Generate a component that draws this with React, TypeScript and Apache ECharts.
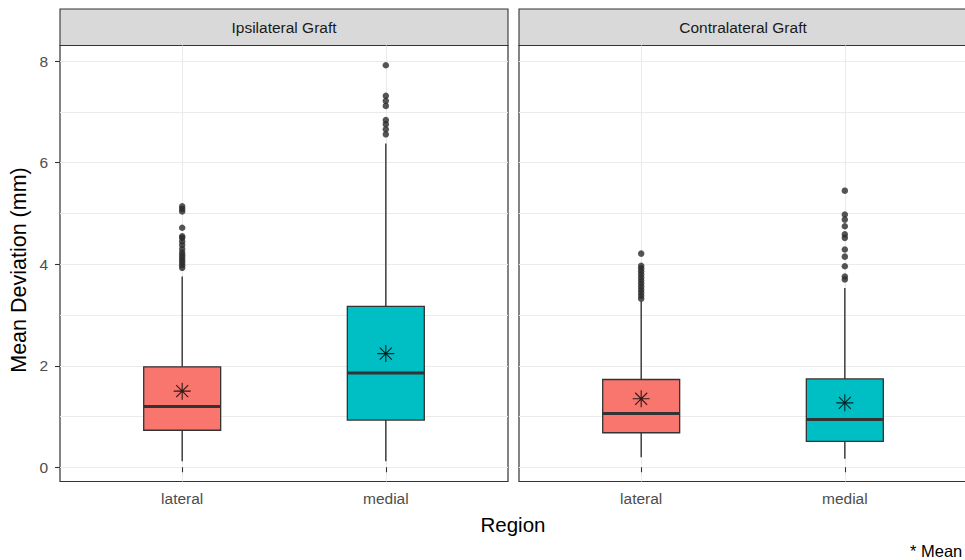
import React, { useEffect, useRef } from "react";
import * as echarts from "echarts";

// ---- data ----
const PANELS = ["Ipsilateral Graft", "Contralateral Graft"];
const REGIONS = ["lateral", "medial"];
const Y_TICKS = [0, 2, 4, 6, 8];
const Y_GRID = [0, 1, 2, 3, 4, 5, 6, 7, 8];

// [lower whisker, Q1, median, Q3, upper whisker] for lateral, medial
const IPSI_BOX = [
  [0.12, 0.73, 1.2, 1.98, 3.76],
  [0.12, 0.93, 1.86, 3.17, 6.38],
];
const CONTRA_BOX = [
  [0.2, 0.68, 1.06, 1.73, 3.27],
  [0.17, 0.51, 0.94, 1.74, 3.53],
];
const IPSI_MEAN = [1.5, 2.24];
const CONTRA_MEAN = [1.35, 1.27];

const IPSI_LATERAL_OUT = [3.93, 3.98, 4.03, 4.08, 4.13, 4.18, 4.23, 4.3, 4.38, 4.45, 4.52, 4.55, 4.72, 5.04, 5.09, 5.14];
const IPSI_MEDIAL_OUT = [6.56, 6.66, 6.76, 6.84, 7.12, 7.22, 7.32, 7.92];
const CONTRA_LATERAL_OUT = [3.32, 3.38, 3.44, 3.5, 3.56, 3.62, 3.68, 3.74, 3.8, 3.86, 3.92, 3.97, 4.21];
const CONTRA_MEDIAL_OUT = [3.7, 3.76, 3.96, 4.15, 4.29, 4.52, 4.59, 4.75, 4.88, 4.98, 5.45];

const FILLS = ["#F8766D", "#00BFC4"];
const FONT = "'Liberation Sans', Arial, Helvetica, sans-serif";
const Y_MIN = -0.28;
const Y_MAX = 8.31;
const BOX_WIDTH = 0.378;
const STAR = "path://M0,-10L0,10M-10,0L10,0M-7.07,-7.07L7.07,7.07M-7.07,7.07L7.07,-7.07";

const GRIDS = [
  { left: 60, top: 45.5, width: 448, height: 436 },
  { left: 519, top: 45.5, width: 448, height: 436 },
];

function boxData(stats: number[][]) {
  return stats.map((s, i) => [i + 1, ...s, i]);
}
function outlierData(lat: number[], med: number[]) {
  return [...lat.map((v) => [1, v]), ...med.map((v) => [2, v])];
}
function meanData(means: number[]) {
  return means.map((v, i) => [i + 1, v]);
}

function renderBox(params: any, api: any) {
  const x = api.value(0);
  const low = api.coord([x, api.value(1)]);
  const q1 = api.coord([x, api.value(2)]);
  const med = api.coord([x, api.value(3)]);
  const q3 = api.coord([x, api.value(4)]);
  const high = api.coord([x, api.value(5)]);
  const w = api.size([BOX_WIDTH, 0])[0];
  const cx = low[0];
  const color = FILLS[api.value(6)];
  const stroke = "#333333";
  return {
    type: "group",
    children: [
      { type: "line", shape: { x1: cx, y1: low[1], x2: cx, y2: q1[1] }, style: { stroke, lineWidth: 1.4 } },
      { type: "line", shape: { x1: cx, y1: q3[1], x2: cx, y2: high[1] }, style: { stroke, lineWidth: 1.4 } },
      {
        type: "rect",
        shape: { x: cx - w / 2, y: q3[1], width: w, height: q1[1] - q3[1] },
        style: { fill: color, stroke, lineWidth: 1.3 },
      },
      {
        type: "line",
        shape: { x1: cx - w / 2, y1: med[1], x2: cx + w / 2, y2: med[1] },
        style: { stroke, lineWidth: 3 },
      },
    ],
  };
}

export default function App() {
  const ref = useRef<HTMLDivElement>(null);

  useEffect(() => {
    if (!ref.current) return;
    const chart = echarts.init(ref.current, undefined, { renderer: "svg" });

    const xAxes = GRIDS.map((_, gi) => ({
      type: "value",
      gridIndex: gi,
      min: 0.4,
      max: 2.6,
      axisLine: { show: false },
      axisTick: { show: true, customValues: [1, 2], length: 5, lineStyle: { color: "#333333", width: 1.1 } },
      axisLabel: {
        customValues: [1, 2],
        formatter: (v: number) => REGIONS[Math.round(v) - 1] ?? "",
        color: "#4d4d4d",
        fontSize: 15.5,
        fontFamily: FONT,
        margin: 9,
      },
      splitLine: { show: true, lineStyle: { color: "#ebebeb", width: 1.1 } },
    }));

    const yAxes: any[] = [
      {
        type: "value",
        gridIndex: 0,
        position: "left",
        min: Y_MIN,
        max: Y_MAX,
        axisLine: { show: false },
        axisTick: { show: true, customValues: Y_TICKS, length: 5, lineStyle: { color: "#333333", width: 1.1 } },
        axisLabel: { customValues: Y_TICKS, color: "#4d4d4d", fontSize: 15.5, fontFamily: FONT, margin: 12 },
        splitLine: { show: false },
      },
      {
        type: "value",
        gridIndex: 0,
        position: "right",
        min: Y_MIN,
        max: Y_MAX,
        axisLine: { show: false },
        axisTick: { show: false, customValues: Y_GRID },
        axisLabel: { show: false },
        splitLine: { show: true, lineStyle: { color: "#ebebeb", width: 1.1 } },
      },
      {
        type: "value",
        gridIndex: 1,
        position: "left",
        min: Y_MIN,
        max: Y_MAX,
        axisLine: { show: false },
        axisTick: { show: false, customValues: Y_GRID },
        axisLabel: { show: false },
        splitLine: { show: true, lineStyle: { color: "#ebebeb", width: 1.1 } },
      },
    ];

    const panelSeries = (gi: number, yIdx: number, box: number[][], means: number[], lat: number[], med: number[]) => [
      {
        type: "custom",
        xAxisIndex: gi,
        yAxisIndex: yIdx,
        renderItem: renderBox,
        encode: { x: 0, y: [1, 2, 3, 4, 5] },
        data: boxData(box),
        z: 3,
      },
      {
        type: "scatter",
        xAxisIndex: gi,
        yAxisIndex: yIdx,
        symbol: "circle",
        symbolSize: 6.5,
        itemStyle: { color: "#2b2b2b" },
        data: outlierData(lat, med),
        z: 4,
      },
      {
        type: "scatter",
        xAxisIndex: gi,
        yAxisIndex: yIdx,
        symbol: STAR,
        symbolSize: 17,
        itemStyle: { color: "rgba(0,0,0,0)", borderColor: "#000000", borderWidth: 1.1 },
        data: meanData(means),
        z: 5,
      },
    ];

    const strips = GRIDS.map((g, gi) => ({
      type: "group",
      children: [
        {
          type: "rect",
          shape: { x: g.left, y: 9, width: g.width, height: g.top - 9 },
          style: { fill: "#d9d9d9", stroke: "#333333", lineWidth: 1.1 },
        },
        {
          type: "text",
          x: g.left + g.width / 2,
          y: (9 + g.top) / 2,
          style: {
            text: PANELS[gi],
            fill: "#1a1a1a",
            fontSize: 15.5,
            fontFamily: FONT,
            align: "center",
            verticalAlign: "middle",
          },
        },
      ],
    }));

    chart.setOption({
      animation: false,
      backgroundColor: "#ffffff",
      grid: GRIDS.map((g) => ({
        ...g,
        show: true,
        borderColor: "#333333",
        borderWidth: 1.2,
        backgroundColor: "#ffffff",
        containLabel: false,
        outerBoundsMode: "none",
      })),
      xAxis: xAxes,
      yAxis: yAxes,
      series: [
        ...panelSeries(0, 1, IPSI_BOX, IPSI_MEAN, IPSI_LATERAL_OUT, IPSI_MEDIAL_OUT),
        ...panelSeries(1, 2, CONTRA_BOX, CONTRA_MEAN, CONTRA_LATERAL_OUT, CONTRA_MEDIAL_OUT),
      ],
      graphic: [
        ...strips,
        {
          type: "text",
          x: 18.5,
          y: 270,
          rotation: Math.PI / 2,
          style: {
            text: "Mean Deviation (mm)",
            fill: "#000000",
            fontSize: 21.5,
            fontFamily: FONT,
            align: "center",
            verticalAlign: "middle",
          },
        },
        {
          type: "text",
          x: 513,
          y: 524,
          style: {
            text: "Region",
            fill: "#000000",
            fontSize: 20.5,
            fontFamily: FONT,
            align: "center",
            verticalAlign: "middle",
          },
        },
        {
          type: "text",
          x: 910,
          y: 551,
          style: {
            text: "* Mean",
            fill: "#000000",
            fontSize: 16.5,
            fontFamily: FONT,
            align: "left",
            verticalAlign: "middle",
          },
        },
      ],
    });

    return () => chart.dispose();
  }, []);

  return (
    <div
      ref={ref}
      style={{ position: "fixed", left: 0, top: 0, width: 965, height: 560, background: "#fff" }}
    />
  );
}
